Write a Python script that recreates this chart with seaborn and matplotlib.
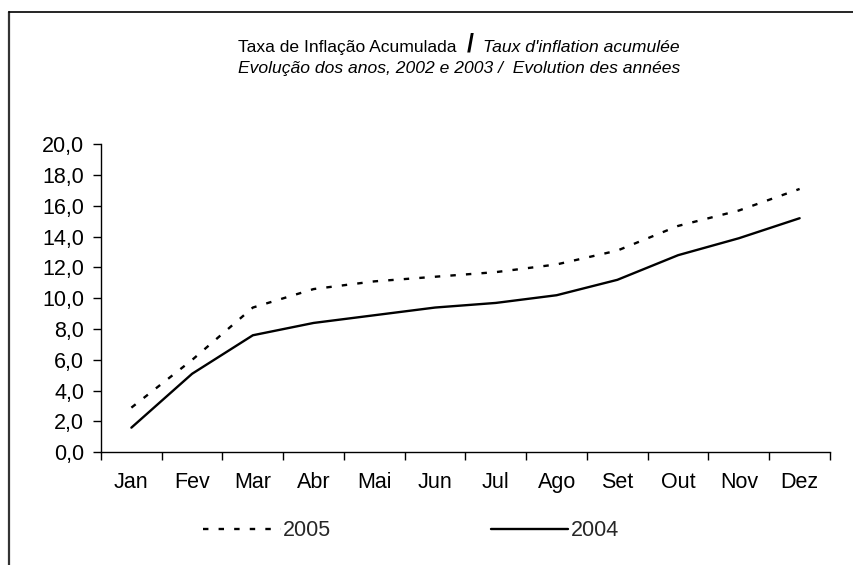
import matplotlib
matplotlib.use("Agg")
import matplotlib.pyplot as plt
import seaborn as sns
import pandas as pd
import numpy as np
from matplotlib.lines import Line2D
from matplotlib.offsetbox import TextArea, HPacker, AnchoredOffsetbox
from matplotlib.ticker import FixedLocator, FuncFormatter

months = ["Jan", "Fev", "Mar", "Abr", "Mai", "Jun", "Jul", "Ago", "Set", "Out", "Nov", "Dez"]
v2005 = [2.9, 6.0, 9.4, 10.6, 11.1, 11.4, 11.7, 12.2, 13.1, 14.7, 15.7, 17.1]
v2004 = [1.6, 5.1, 7.6, 8.4, 8.9, 9.4, 9.7, 10.2, 11.2, 12.8, 13.9, 15.2]
years = ["2005", "2004"]
yticks = [0, 2, 4, 6, 8, 10, 12, 14, 16, 18, 20]

sns.set_theme(style="white")
plt.rcParams['font.family'] = ['Liberation Sans', 'DejaVu Sans']

df = pd.DataFrame({
    "mes": months * 2,
    "x": list(range(len(months))) * 2,
    "valor": v2005 + v2004,
    "ano": [years[0]] * len(months) + [years[1]] * len(months),
})

FS = 15.5
DASH = (2.3, 4.3)
fig = plt.figure(figsize=(8.54, 5.65), dpi=100)
ax = fig.add_axes([101/854, 1 - 452.3/565, (830-101)/854, (452.3-144.3)/565])

sns.lineplot(data=df, x="x", y="valor", style="ano", hue="ano",
             palette={"2005": "black", "2004": "black"},
             dashes={"2005": DASH, "2004": ""},
             linewidth=1.7, ax=ax, legend=False, sort=False)

ax.set_xlim(-0.5, len(months) - 0.5)
ax.set_ylim(0, 20)
ax.set_yticks(yticks)
ax.yaxis.set_major_formatter(FuncFormatter(lambda v, p: f"{v:.1f}".replace(".", ",")))
ax.set_xticks(range(len(months)))
ax.set_xticklabels(months)
ax.xaxis.set_minor_locator(FixedLocator(np.arange(-0.5, len(months), 1.0)))
ax.tick_params(axis="x", which="major", length=0, labelsize=FS, pad=14, colors="black")
ax.tick_params(axis="x", which="minor", length=6, width=1, direction="out", color="black", bottom=True)
ax.tick_params(axis="y", length=6, width=1, direction="out", labelsize=FS, pad=6, colors="black", left=True)
ax.set_xlabel("")
ax.set_ylabel("")
for s in ["top", "right"]:
    ax.spines[s].set_visible(False)
for s in ["left", "bottom"]:
    ax.spines[s].set_color("black")
    ax.spines[s].set_linewidth(1)
ax.grid(False)

# Title: first line mixed styles
TF = 12.6
t1 = TextArea("Taxa de Inflação Acumulada", textprops=dict(fontsize=TF, color="black"))
t2 = TextArea("/", textprops=dict(fontsize=18, fontweight="bold", color="black"))
t3 = TextArea("Taux d'inflation acumulée", textprops=dict(fontsize=TF, style="italic", color="black"))
pack = HPacker(children=[t1, t2, t3], align="baseline", pad=0, sep=7)
ab = AnchoredOffsetbox(loc="center", child=pack, frameon=False,
                       bbox_to_anchor=(459/854, 1 - 45/565), bbox_transform=fig.transFigure, pad=0, borderpad=0)
fig.add_artist(ab)
fig.text(459/854, 1 - 68/565, "Evolução dos anos, 2002 e 2003 /  Evolution des années",
         ha="center", va="center", fontsize=TF, style="italic", color="black")

# Legend
handles = [Line2D([], [], color="black", lw=1.7, dashes=DASH),
           Line2D([], [], color="black", lw=1.7)]
fig.legend(handles, years, loc="center left", bbox_to_anchor=(203/854, 1 - 531/565),
           ncol=2, frameon=False, fontsize=FS, handlelength=3.6, handletextpad=0.12,
           columnspacing=7.4, borderpad=0, borderaxespad=0)

# Outer frame (left and top edges)
fig.add_artist(Line2D([9.5/854, 9.5/854], [0, 1 - 12/565], transform=fig.transFigure,
                      color="#333333", lw=1.6))
fig.add_artist(Line2D([9/854, 1], [1 - 12/565, 1 - 12/565], transform=fig.transFigure,
                      color="black", lw=1.2))

fig.savefig("out.png", dpi=100)
